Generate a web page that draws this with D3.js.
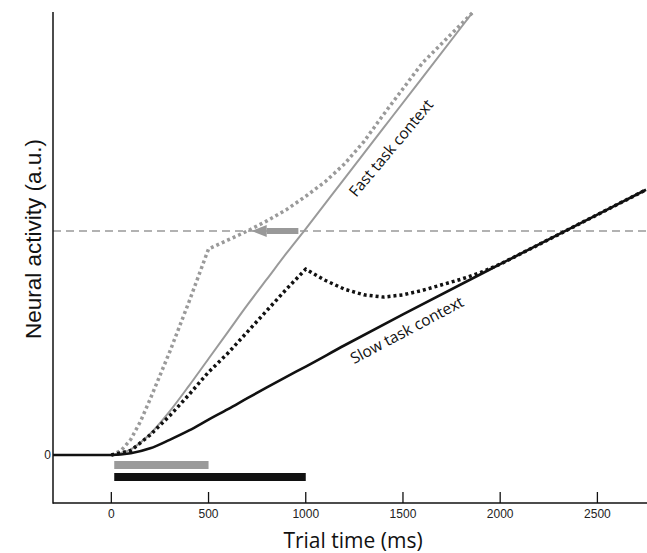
<!DOCTYPE html>
<html>
<head>
  <script src="https://d3js.org/d3.v7.min.js"></script>
  <style>
    body { margin: 0; background: #fff; }
    .tick-label { font-family: "Liberation Sans", Arial, sans-serif; font-size: 12px; fill: #222; }
    .curve-label { font-family: "Open Sans", sans-serif; font-size: 15.5px; fill: #111; }
  </style>
</head>
<body>
  <script>
    // trial time (ms) and activity (a.u., threshold = 1)
    var slowTime = [-300, 0, 100, 200, 300, 400, 500, 600, 700, 800, 900, 1000, 1200, 1500, 2000, 2500, 2750];
    var slowValue = [0, 0, 0.008, 0.03, 0.068, 0.11, 0.158, 0.205, 0.254, 0.302, 0.349, 0.395, 0.49, 0.628, 0.852, 1.073, 1.184];

    var fastTime = [0, 100, 200, 300, 400, 500, 600, 700, 800, 900, 1000, 1200, 1400, 1600, 1856];
    var fastValue = [0, 0.025, 0.095, 0.195, 0.31, 0.43, 0.55, 0.67, 0.785, 0.9, 1.01, 1.235, 1.46, 1.685, 1.973];

    var fastPerturbTime = [0, 50, 100, 150, 200, 300, 400, 500, 600, 700, 800, 900, 1000, 1100, 1200, 1300, 1400, 1600, 1856];
    var fastPerturbValue = [0, 0.02, 0.07, 0.15, 0.25, 0.46, 0.685, 0.92, 0.96, 1.0, 1.045, 1.095, 1.155, 1.22, 1.3, 1.4, 1.52, 1.75, 1.973];

    var slowPerturbTime = [0, 100, 200, 300, 400, 500, 600, 700, 800, 900, 1000, 1100, 1200, 1300, 1400, 1500, 1600, 1700, 1800, 1900, 2000, 2100, 2200, 2500, 2750];
    var slowPerturbValue = [0, 0.02, 0.09, 0.175, 0.27, 0.37, 0.455, 0.55, 0.645, 0.74, 0.83, 0.78, 0.74, 0.715, 0.705, 0.715, 0.735, 0.76, 0.785, 0.815, 0.852, 0.896, 0.94, 1.073, 1.184];

    var xTicks = [0, 500, 1000, 1500, 2000, 2500];
    var threshold = 1;
    var arrowFrom = 962, arrowTo = 722;
    // stimulus bars: [start, end] in ms
    var fastBar = [15, 500];
    var slowBar = [15, 1000];

    var W = 647, H = 553;
    var x = d3.scaleLinear().domain([-300, 2750]).range([53, 646]);
    var y = d3.scaleLinear().domain([-0.214, 1.973]).range([503, 13]);

    var svg = d3.select("body").append("svg")
      .attr("width", W)
      .attr("height", H);

    function zip(ts, vs) {
      return ts.map(function (t, i) { return [t, vs[i]]; });
    }

    var smooth = d3.line().x(function (d) { return x(d[0]); }).y(function (d) { return y(d[1]); })
      .curve(d3.curveMonotoneX);
    var straight = d3.line().x(function (d) { return x(d[0]); }).y(function (d) { return y(d[1]); });

    // threshold
    svg.append("line")
      .attr("x1", x(-300)).attr("x2", x(2750))
      .attr("y1", y(threshold)).attr("y2", y(threshold))
      .attr("stroke", "#999").attr("stroke-width", 1.6)
      .attr("stroke-dasharray", "8,5");

    // curves
    svg.append("path").attr("d", smooth(zip(fastTime, fastValue)))
      .attr("fill", "none").attr("stroke", "#9a9a9a").attr("stroke-width", 2);
    svg.append("path").attr("d", straight(zip(fastPerturbTime, fastPerturbValue)))
      .attr("fill", "none").attr("stroke", "#9a9a9a").attr("stroke-width", 3.5)
      .attr("stroke-dasharray", "3,3");
    svg.append("path").attr("d", smooth(zip(slowTime, slowValue)))
      .attr("fill", "none").attr("stroke", "#111").attr("stroke-width", 2.6);
    svg.append("path").attr("d", straight(zip(slowPerturbTime, slowPerturbValue)))
      .attr("fill", "none").attr("stroke", "#111").attr("stroke-width", 3.5)
      .attr("stroke-dasharray", "3,3");

    // arrow along the threshold
    var ay = y(threshold);
    var headBase = x(arrowTo) + 15;
    svg.append("line")
      .attr("x1", x(arrowFrom)).attr("x2", headBase)
      .attr("y1", ay).attr("y2", ay)
      .attr("stroke", "#999").attr("stroke-width", 6);
    svg.append("path")
      .attr("d", "M" + x(arrowTo) + "," + ay + "L" + headBase + "," + (ay - 6) + "L" + headBase + "," + (ay + 6) + "Z")
      .attr("fill", "#999");

    // stimulus bars
    svg.append("rect")
      .attr("x", x(fastBar[0])).attr("width", x(fastBar[1]) - x(fastBar[0]))
      .attr("y", 461).attr("height", 8).attr("fill", "#9a9a9a");
    svg.append("rect")
      .attr("x", x(slowBar[0])).attr("width", x(slowBar[1]) - x(slowBar[0]))
      .attr("y", 473).attr("height", 8).attr("fill", "#111");

    // axes
    var xAxis = svg.append("g").attr("transform", "translate(0,503)");
    xAxis.append("line").attr("x1", 53).attr("x2", 647).attr("stroke", "#111").attr("stroke-width", 1.5);
    xAxis.selectAll(".t").data(xTicks).enter().append("line")
      .attr("x1", function (d) { return x(d); }).attr("x2", function (d) { return x(d); })
      .attr("y1", 0).attr("y2", -11)
      .attr("stroke", "#111").attr("stroke-width", 1.3);
    xAxis.selectAll(".tick-label").data(xTicks).enter().append("text")
      .attr("class", "tick-label")
      .attr("x", function (d) { return x(d); })
      .attr("y", 15)
      .attr("text-anchor", "middle")
      .text(function (d) { return d; });

    svg.append("line")
      .attr("x1", 53).attr("x2", 53).attr("y1", 12).attr("y2", 503.75)
      .attr("stroke", "#111").attr("stroke-width", 1.5);
    svg.append("text").attr("class", "tick-label")
      .attr("x", 51).attr("y", y(0) + 4)
      .attr("text-anchor", "end")
      .text("0");

    // titles
    svg.append("text")
      .attr("x", 353).attr("y", 548)
      .attr("text-anchor", "middle")
      .attr("font-family", "Open Sans, sans-serif")
      .attr("font-size", 21)
      .attr("fill", "#111")
      .text("Trial time (ms)");
    svg.append("text")
      .attr("transform", "translate(41,239) rotate(-90)")
      .attr("text-anchor", "middle")
      .attr("font-family", "Liberation Sans, Arial, sans-serif")
      .attr("font-size", 22.5)
      .attr("fill", "#111")
      .text("Neural activity (a.u.)");

    // curve labels
    svg.append("text").attr("class", "curve-label")
      .attr("transform", "translate(391,148) rotate(-50)")
      .attr("text-anchor", "middle")
      .attr("dy", "0.35em")
      .text("Fast task context");
    svg.append("text").attr("class", "curve-label")
      .attr("transform", "translate(407,330) rotate(-28)")
      .attr("text-anchor", "middle")
      .attr("dy", "0.35em")
      .text("Slow task context");
  </script>
</body>
</html>
